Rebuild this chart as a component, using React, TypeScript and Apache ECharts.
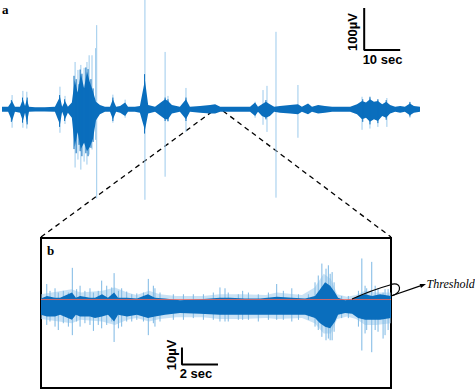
import React, { useEffect, useRef } from "react";
import * as echarts from "echarts";

// ---------- Trace a (overview), time in s, amplitude in µV ----------
const A_T = [0, 1.7, 2.8, 3.6, 5.0, 5.8, 6.4, 6.9, 7.5, 9.2, 11.9, 14.7, 16.1, 16.7, 17.5, 18.3, 19.4, 20.2, 21.0, 21.9, 22.8, 23.6, 24.4, 25.3, 26.1, 27.2, 28.6, 30.0, 30.8, 31.7, 32.8, 34.2, 35.0, 36.9, 38.3, 39.7, 40.6, 42.5, 45.3, 46.1, 47.2, 49.4, 51.1, 52.2, 55.0, 57.8, 59.2, 60.6, 63.3, 66.1, 68.9, 70.3, 71.1, 72.2, 73.3, 74.4, 75.6, 77.2, 80.0, 82.2, 83.3, 85.0, 86.1, 87.8, 89.7, 91.7, 93.9, 96.7, 98.6, 100.0, 101.1, 102.2, 103.3, 104.4, 105.6, 106.7, 107.8, 109.2, 110.6, 111.9, 113.3, 114.4, 116.1];
const A_UP = [6, 6, 20, 6, 6, 24, 8, 24, 6, 5, 5, 6, 30, 6, 20, 6, 16, 70, 40, 85, 50, 90, 65, 42, 18, 10, 6, 6, 24, 6, 8, 16, 6, 6, 8, 70, 10, 6, 24, 20, 10, 6, 24, 6, 8, 10, 12, 6, 6, 6, 6, 16, 6, 12, 18, 12, 6, 8, 10, 12, 6, 14, 6, 10, 8, 6, 6, 6, 12, 20, 16, 24, 18, 20, 12, 18, 10, 6, 8, 6, 14, 8, 6];
const A_DN = [-6, -6, -28, -6, -8, -28, -8, -32, -6, -5, -5, -6, -36, -6, -24, -8, -20, -90, -55, -95, -80, -100, -90, -70, -26, -12, -6, -6, -24, -6, -8, -16, -6, -6, -8, -50, -10, -6, -24, -24, -10, -6, -24, -6, -8, -10, -10, -6, -6, -6, -6, -16, -6, -16, -20, -16, -6, -8, -10, -12, -6, -12, -6, -10, -8, -6, -6, -6, -12, -24, -20, -30, -24, -28, -16, -20, -10, -6, -8, -6, -14, -8, -6];
// light spikes: [time, top, bottom]
const A_SPIKES = [
  [2.8, 34, -44], [5.8, 44, -44], [6.9, 42, -46], [16.1, 54, -56], [17.5, 32, -35],
  [20.3, 113, -139], [21.1, 94, -120], [21.9, 106, -144], [22.8, 99, -125], [23.6, 113, -132],
  [24.2, 129, -108], [25.0, 129, -96], [26.0, 146, -73], [26.3, 201, -213], [30.8, 35, -32],
  [34.2, 23, -20], [39.7, 261, -216], [45.3, 137, -161], [46.1, 32, -30], [51.1, 51, -54],
  [70.3, 18, -20], [72.5, 46, -37], [73.6, 56, -54], [76.1, 185, -211], [82.2, 58, -68],
  [100.0, 30, -49], [102.2, 27, -46], [104.4, 23, -42], [106.9, 27, -42], [113.3, 18, -20],
];
// dark streaks inside bursts: [time, top, bottom]
const A_STREAKS = [
  [2.6, 22, -30], [5.7, 28, -32], [7.0, 28, -36], [16.0, 34, -42], [17.4, 24, -28],
  [20.0, 80, -95], [20.6, 72, -105], [21.4, 60, -85], [21.7, 95, -100], [22.2, 85, -112],
  [23.3, 100, -105], [23.9, 96, -112], [24.7, 72, -92], [25.3, 50, -78], [30.8, 28, -28],
  [39.6, 84, -58], [45.3, 28, -28], [46.1, 24, -28], [51.1, 28, -28], [73.3, 22, -24],
  [100.2, 24, -30], [102.2, 30, -36], [104.4, 24, -33], [106.7, 22, -25], [113.3, 17, -17],
];

// ---------- Trace b (zoom), time in s, amplitude in µV ----------
const B_T = [0, 0.33, 0.78, 1.06, 1.72, 1.94, 2.17, 2.72, 3.0, 3.39, 3.72, 4.06, 4.28, 4.78, 5.33, 5.94, 6.33, 6.89, 7.72, 8.83, 9.94, 10.5, 11.33, 12.17, 13.11, 13.94, 14.67, 15.22, 15.5, 15.78, 16.06, 16.33, 16.5, 16.89, 17.28, 17.61, 18.0, 18.39, 18.83, 19.44];
const B_UP = [4.5, 6, 5, 5, 8, 5, 6, 5, 5, 7, 5, 8, 5, 5, 4.5, 7, 5, 4.5, 3.5, 4, 5, 5, 4.5, 4.5, 5.5, 5, 4.5, 6, 10, 14, 12, 8, 5, 3.5, 4, 6, 7, 6, 7, 6];
const B_DN = [-5, -6, -6, -5, -8, -5, -6, -6, -7, -6, -5, -9, -5, -6, -5, -7, -6, -5, -4, -4.5, -5, -5, -5, -5, -5, -5, -5, -7, -10, -12, -13, -9, -5, -4, -4.5, -7, -8, -8, -8, -7];
const B_HALO_T = [0, 1.7, 2.2, 3.4, 4.1, 4.8, 5.3, 6.0, 6.6, 7.5, 9.0, 9.9, 11.2, 12.5, 13.1, 14.5, 15.2, 15.7, 16.1, 16.45, 17.0, 17.5, 18.0, 18.6, 19.44];
const B_HALO_UP = [7, 10, 8, 9, 11, 8, 6.5, 9, 7, 6, 6, 7, 7, 6.5, 8, 6.5, 11, 19, 16, 7, 5.5, 6.5, 9, 8, 8];
const B_HALO_DN = [-7.5, -10, -8, -9, -11, -8, -7, -9, -7.5, -6.5, -6.5, -7.5, -7.5, -7, -7.5, -7, -10, -16, -16, -7.5, -6, -7.5, -11, -11, -10];
const B_SPIKES = [
  [0.32, 13, -11], [0.5, 9, -9], [0.78, 10.5, -12], [0.96, 8, -14], [1.24, 9, -10], [1.52, 8, -12],
  [1.74, 22.5, -17], [1.98, 10, -9], [2.17, 12, -12], [2.44, 9, -10], [2.72, 10.5, -11], [2.91, 8, -14.5],
  [3.18, 9, -11], [3.37, 15, -13], [3.65, 12, -11], [3.93, 11, -9], [4.06, 19.4, -21], [4.3, 9, -13],
  [4.48, 10.5, -12], [4.76, 8.6, -9], [5.04, 7, -9], [5.32, 7.5, -8], [5.69, 8, -9], [5.96, 16, -17],
  [6.24, 12, -10], [6.33, 10.5, -12], [6.61, 8, -9], [7.35, 7, -8], [7.91, 7, -8], [8.46, 7, -7],
  [9.02, 7, -8], [9.57, 8, -8], [9.94, 11, -9], [10.22, 10.5, -9], [10.4, 8, -9], [10.96, 7, -8],
  [11.2, 9, -8], [11.52, 8, -8], [12.07, 7, -9], [12.63, 8, -8], [13.09, 13, -8], [13.46, 9, -8],
  [13.93, 10.5, -9], [14.3, 7, -8], [14.85, 7, -8], [15.22, 14, -12], [15.4, 18, -14], [15.6, 25, -18],
  [15.83, 22, -20], [15.96, 24, -19], [16.06, 19, -20], [16.17, 20, -20], [16.28, 14, -15], [16.7, 6, -7],
  [17.07, 6, -7], [17.63, 9, -12], [17.82, 28, -26], [18.0, 12, -16], [18.09, 10.5, -14], [18.37, 26, -27],
  [18.56, 12, -14], [18.72, 10.5, -15], [19.0, 8, -19], [19.11, 10, -17], [19.28, 10, -14],
];
const THRESHOLD = 3.9;

// scale bars
const SCALE_A = { t: 100.6, v: 141.6, dt: 10, dv: 100 };
const SCALE_B = { t: 7.83, v: -34.2, dt: 2, dv: 10 };
// zoom window in trace a
const ZOOM_A = [58.6, 61.4];

const DARK = "#0a6ebd";
const LIGHT = "#9ccaec";

function bandSeries(idx: number, ts: number[], ups: number[], dns: number[], color: string, opacity: number, z: number) {
  return {
    type: "custom",
    xAxisIndex: idx,
    yAxisIndex: idx,
    z,
    silent: true,
    data: ts.map((t, i) => [t, ups[i], dns[i]]),
    encode: { x: 0, y: [1, 2] },
    renderItem: (params: any, api: any) => {
      if (params.dataIndex !== 0) return null;
      const pts: number[][] = [];
      for (let i = 0; i < ts.length; i++) pts.push(api.coord([ts[i], ups[i]]));
      for (let i = ts.length - 1; i >= 0; i--) pts.push(api.coord([ts[i], dns[i]]));
      return { type: "polygon", shape: { points: pts }, style: { fill: color, opacity } };
    },
  };
}

function spikeSeries(idx: number, spikes: number[][], color: string, width: number, z: number) {
  return {
    type: "custom",
    xAxisIndex: idx,
    yAxisIndex: idx,
    z,
    silent: true,
    data: spikes,
    encode: { x: 0, y: [1, 2] },
    renderItem: (params: any, api: any) => {
      const p1 = api.coord([api.value(0), api.value(1)]);
      const p2 = api.coord([api.value(0), api.value(2)]);
      return { type: "line", shape: { x1: p1[0], y1: p1[1], x2: p2[0], y2: p2[1] }, style: { stroke: color, lineWidth: width } };
    },
  };
}

function scaleSeries(idx: number, s: { t: number; v: number; dt: number; dv: number }) {
  return {
    type: "line",
    xAxisIndex: idx,
    yAxisIndex: idx,
    symbol: "none",
    silent: true,
    z: 10,
    lineStyle: { color: "#000", width: 2 },
    data: [[s.t + s.dt, s.v], [s.t, s.v], [s.t, s.v + s.dv]],
  };
}

export default function App() {
  const ref = useRef<HTMLDivElement>(null);
  useEffect(() => {
    document.body.style.margin = "0";
    const chart = echarts.init(ref.current!, null, { renderer: "svg" });
    const boldSans = "bold 13px 'Liberation Sans', Arial, sans-serif";
    chart.setOption({
      animation: false,
      backgroundColor: "#fff",
      grid: [
        { left: 2, top: 0, width: 418, height: 214 },
        { left: 41, top: 238, width: 350, height: 150, show: true, borderColor: "#000", borderWidth: 2, backgroundColor: "transparent" },
      ],
      xAxis: [
        { type: "value", gridIndex: 0, min: 0, max: 116.1, show: false },
        { type: "value", gridIndex: 1, min: 0, max: 19.44, show: false },
      ],
      yAxis: [
        { type: "value", gridIndex: 0, min: -250, max: 261, show: false },
        { type: "value", gridIndex: 1, min: -48, max: 40, show: false },
      ],
      series: [
        spikeSeries(0, A_SPIKES, LIGHT, 1, 2),
        bandSeries(0, A_T, A_UP, A_DN, DARK, 1, 3),
        spikeSeries(0, A_STREAKS, DARK, 1, 4),
        scaleSeries(0, SCALE_A),
        bandSeries(1, B_HALO_T, B_HALO_UP, B_HALO_DN, LIGHT, 0.55, 2),
        spikeSeries(1, B_SPIKES, "#7db8e4", 1, 3),
        bandSeries(1, B_T, B_UP, B_DN, DARK, 1, 4),
        {
          type: "line",
          xAxisIndex: 1,
          yAxisIndex: 1,
          symbol: "none",
          silent: true,
          z: 6,
          lineStyle: { color: "#ec6a64", width: 1, opacity: 0.85 },
          data: [[0, THRESHOLD], [19.44, THRESHOLD]],
        },
        scaleSeries(1, SCALE_B),
      ],
    });

    const pL = chart.convertToPixel({ gridIndex: 0 }, [ZOOM_A[0], -4]) as number[];
    const pR = chart.convertToPixel({ gridIndex: 0 }, [ZOOM_A[1], -4]) as number[];
    const bL = chart.convertToPixel({ gridIndex: 1 }, [0, 40]) as number[];
    const bR = chart.convertToPixel({ gridIndex: 1 }, [19.44, 40]) as number[];
    const dash = { stroke: "#000", lineWidth: 1.3, lineDash: [5, 4] };

    chart.setOption({
      graphic: [
        { type: "text", x: 2, y: 9, style: { text: "a", font: "bold 13px 'Liberation Serif', serif", fill: "#000", verticalAlign: "middle" } },
        { type: "text", x: 47, y: 250, style: { text: "b", font: "bold 13px 'Liberation Serif', serif", fill: "#000", verticalAlign: "middle" } },
        { type: "line", shape: { x1: bL[0], y1: bL[1] - 1, x2: pL[0], y2: pL[1] }, style: dash },
        { type: "line", shape: { x1: pR[0], y1: pR[1], x2: bR[0], y2: bR[1] - 1 }, style: dash },
        { type: "text", x: 352, y: 32, rotation: Math.PI / 2, style: { text: "100µV", font: boldSans, fill: "#000", align: "center", verticalAlign: "middle" } },
        { type: "text", x: 382.5, y: 59.5, style: { text: "10 sec", font: boldSans, fill: "#000", align: "center", verticalAlign: "middle" } },
        { type: "text", x: 171, y: 355, rotation: Math.PI / 2, style: { text: "10µV", font: boldSans, fill: "#000", align: "center", verticalAlign: "middle" } },
        { type: "text", x: 196, y: 373, style: { text: "2 sec", font: boldSans, fill: "#000", align: "center", verticalAlign: "middle" } },
        { type: "bezierCurve", shape: { x1: 352, y1: 299, x2: 390, y2: 285, cpx1: 372, cpy1: 290 }, style: { stroke: "#000", lineWidth: 1.2, fill: "none" }, z: 100 },
        { type: "bezierCurve", shape: { x1: 390, y1: 285, x2: 391, y2: 296, cpx1: 401, cpy1: 280, cpx2: 404, cpy2: 293 }, style: { stroke: "#000", lineWidth: 1.2, fill: "none" }, z: 100 },
        { type: "line", shape: { x1: 391, y1: 296, x2: 421, y2: 285.6 }, style: { stroke: "#000", lineWidth: 1.2 }, z: 100 },
        { type: "polygon", shape: { points: [[426, 284], [421, 288], [419.6, 283.9]] }, style: { fill: "#000" }, z: 100 },
        { type: "text", x: 426.5, y: 284, style: { text: "Threshold", font: "italic 12px 'Liberation Serif', serif", fill: "#000", verticalAlign: "middle" } },
      ],
    });
    return () => chart.dispose();
  }, []);
  return <div ref={ref} style={{ width: 475, height: 389 }} />;
}
